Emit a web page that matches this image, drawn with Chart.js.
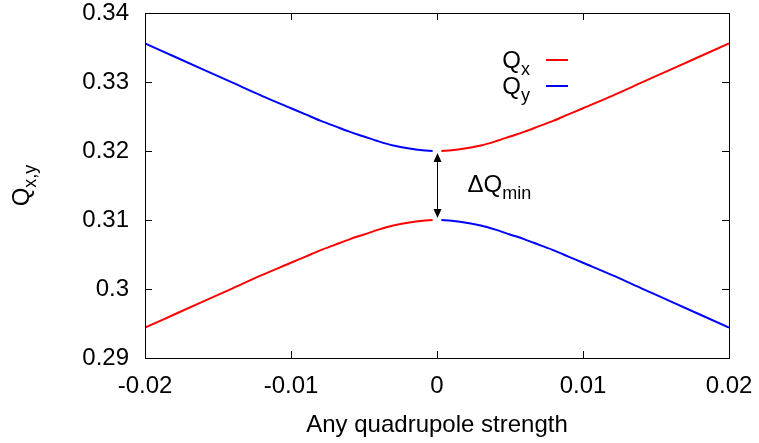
<!DOCTYPE html>
<html>
<head>
<meta charset="utf-8">
<script src="https://cdn.jsdelivr.net/npm/chart.js@4.4.0/dist/chart.umd.min.js"></script>
<style>
  html, body { margin: 0; padding: 0; background: #fff; }
  #wrap { width: 759px; height: 443px; position: relative; }
</style>
</head>
<body>
<div id="wrap"><canvas id="tuneChart" width="759" height="443"></canvas></div>
<script>
// quadrupole strength sample points (left and right of the resonance)
const xLeft = [-0.02, -0.018, -0.016, -0.014, -0.012, -0.01, -0.009, -0.008, -0.007, -0.006, -0.005, -0.004, -0.003, -0.002, -0.001, -0.0003];
const xRight = [0.0003, 0.001, 0.002, 0.003, 0.004, 0.005, 0.006, 0.007, 0.008, 0.009, 0.01, 0.012, 0.014, 0.016, 0.018, 0.02];

// tunes
const qxLeft = [0.2944, 0.2963, 0.2982, 0.3001, 0.3020, 0.3038, 0.3047, 0.3056, 0.3064, 0.3072, 0.3079, 0.3086, 0.3092, 0.3096, 0.3099, 0.3100];
const qxRight = [0.3200, 0.3201, 0.3204, 0.3208, 0.3214, 0.3221, 0.3228, 0.3236, 0.3244, 0.3253, 0.3262, 0.3280, 0.3299, 0.3318, 0.3337, 0.3356];
const qyLeft = [0.3356, 0.3337, 0.3318, 0.3299, 0.3280, 0.3262, 0.3253, 0.3244, 0.3236, 0.3228, 0.3221, 0.3214, 0.3208, 0.3204, 0.3201, 0.3200];
const qyRight = [0.3100, 0.3099, 0.3096, 0.3092, 0.3086, 0.3079, 0.3072, 0.3064, 0.3056, 0.3047, 0.3038, 0.3020, 0.3001, 0.2982, 0.2963, 0.2944];

const xTicks = ['-0.02', '-0.01', '0', '0.01', '0.02'];
const yTicks = ['0.29', '0.3', '0.31', '0.32', '0.33', '0.34'];
const gapTop = 0.3197;
const gapBottom = 0.3103;

const FONT = '"Liberation Sans", Arial, Helvetica, sans-serif';

function toPoints(xs, ys) {
    return xs.map((x, i) => ({ x: x, y: ys[i] }));
}

const qxData = toPoints(xLeft, qxLeft).concat([{ x: 0, y: null }], toPoints(xRight, qxRight));
const qyData = toPoints(xLeft, qyLeft).concat([{ x: 0, y: null }], toPoints(xRight, qyRight));

// text with a subscript, e.g. Q_x
function subText(ctx, base, sub, x, y, size, align) {
    ctx.font = size + 'px ' + FONT;
    const w1 = ctx.measureText(base).width;
    ctx.font = Math.round(size * 0.75) + 'px ' + FONT;
    const w2 = ctx.measureText(sub).width;
    let start = x;
    if (align === 'right') start = x - w1 - w2;
    if (align === 'center') start = x - (w1 + w2) / 2;
    ctx.textAlign = 'left';
    ctx.textBaseline = 'alphabetic';
    ctx.font = size + 'px ' + FONT;
    ctx.fillText(base, start, y);
    ctx.font = Math.round(size * 0.75) + 'px ' + FONT;
    ctx.fillText(sub, start + w1, y + size * 0.3);
}

const framePlugin = {
    id: 'frame',
    afterDraw(chart) {
        const ctx = chart.ctx;
        const a = chart.chartArea;
        const xs = chart.scales.x;
        const ys = chart.scales.y;
        ctx.save();
        ctx.strokeStyle = '#000';
        ctx.lineWidth = 1;
        ctx.strokeRect(Math.round(a.left) + 0.5, Math.round(a.top) + 0.5, Math.round(a.right - a.left), Math.round(a.bottom - a.top));

        // inward ticks on all four sides
        const tl = 7;
        ctx.beginPath();
        xs.ticks.forEach(t => {
            const px = Math.round(xs.getPixelForValue(t.value)) + 0.5;
            ctx.moveTo(px, a.bottom); ctx.lineTo(px, a.bottom - tl);
            ctx.moveTo(px, a.top); ctx.lineTo(px, a.top + tl);
        });
        ys.ticks.forEach(t => {
            const py = Math.round(ys.getPixelForValue(t.value)) + 0.5;
            ctx.moveTo(a.left, py); ctx.lineTo(a.left + tl, py);
            ctx.moveTo(a.right, py); ctx.lineTo(a.right - tl, py);
        });
        ctx.stroke();

        // double-headed arrow marking the minimum tune split
        const ax = Math.round(xs.getPixelForValue(0)) + 0.5;
        const y1 = ys.getPixelForValue(gapTop);
        const y2 = ys.getPixelForValue(gapBottom);
        const hl = 9, hw = 4;
        ctx.beginPath();
        ctx.moveTo(ax, y1 + hl); ctx.lineTo(ax, y2 - hl);
        ctx.stroke();
        ctx.fillStyle = '#000';
        ctx.beginPath();
        ctx.moveTo(ax, y1); ctx.lineTo(ax - hw, y1 + hl); ctx.lineTo(ax + hw, y1 + hl); ctx.closePath();
        ctx.fill();
        ctx.beginPath();
        ctx.moveTo(ax, y2); ctx.lineTo(ax - hw, y2 - hl); ctx.lineTo(ax + hw, y2 - hl); ctx.closePath();
        ctx.fill();
        subText(ctx, '\u0394Q', 'min', ax + 30, (y1 + y2) / 2 + 6, 24, 'left');

        // legend
        const series = [['x', '#ff0000', 60], ['y', '#0000ff', 86]];
        series.forEach(s => {
            ctx.fillStyle = '#000';
            subText(ctx, 'Q', s[0], 530, s[2] + 8, 24, 'right');
            ctx.strokeStyle = s[1];
            ctx.lineWidth = 2;
            ctx.beginPath();
            ctx.moveTo(546, s[2]); ctx.lineTo(568, s[2]);
            ctx.stroke();
        });

        // axis titles
        ctx.fillStyle = '#000';
        ctx.font = '24px ' + FONT;
        ctx.textAlign = 'center';
        ctx.textBaseline = 'alphabetic';
        ctx.fillText('Any quadrupole strength', (a.left + a.right) / 2, 432);
        ctx.translate(29, (a.top + a.bottom) / 2);
        ctx.rotate(-Math.PI / 2);
        subText(ctx, 'Q', 'x,y', 0, 0, 24, 'center');
        ctx.restore();
    }
};

new Chart(document.getElementById('tuneChart'), {
    type: 'line',
    data: {
        datasets: [
            { label: 'Qx', data: qxData, borderColor: '#ff0000', borderWidth: 2, pointRadius: 0, cubicInterpolationMode: 'monotone', spanGaps: false },
            { label: 'Qy', data: qyData, borderColor: '#0000ff', borderWidth: 2, pointRadius: 0, cubicInterpolationMode: 'monotone', spanGaps: false }
        ]
    },
    options: {
        responsive: false,
        animation: false,
        devicePixelRatio: 1,
        layout: { padding: { left: 0, right: 30, top: 13, bottom: 0 } },
        plugins: { legend: { display: false }, tooltip: { enabled: false } },
        scales: {
            x: {
                type: 'linear',
                min: -0.02,
                max: 0.02,
                grid: { display: false, drawTicks: false },
                border: { display: false },
                ticks: {
                    stepSize: 0.01,
                    padding: 14,
                    color: '#000',
                    font: { family: FONT, size: 24 },
                    maxRotation: 0,
                    autoSkip: false,
                    callback: (v, i) => xTicks[i]
                },
                afterFit: s => {
                    s.height = 85;
                    s.paddingLeft = 0; s.paddingRight = 0;
                }
            },
            y: {
                type: 'linear',
                min: 0.29,
                max: 0.34,
                grid: { display: false, drawTicks: false },
                border: { display: false },
                ticks: {
                    stepSize: 0.01,
                    padding: 16,
                    color: '#000',
                    font: { family: FONT, size: 24 },
                    autoSkip: false,
                    callback: (v, i) => yTicks[i]
                },
                afterFit: s => {
                    s.width = 145;
                    s.paddingTop = 0; s.paddingBottom = 0;
                }
            }
        }
    },
    plugins: [framePlugin]
});
</script>
</body>
</html>
